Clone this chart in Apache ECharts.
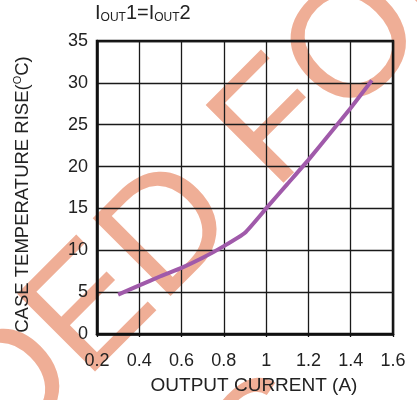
<!DOCTYPE html>
<html>
<head>
<meta charset="utf-8">
<script src="https://cdn.jsdelivr.net/npm/echarts@6/dist/echarts.min.js"></script>
<style>
  html, body { margin: 0; padding: 0; background: #fff; }
  #chart { width: 417px; height: 400px; }
</style>
</head>
<body>
<div id="chart"></div>
<script>
// Output current (A) and the resulting case temperature rise (°C)
const current = [0.3, 0.4, 0.5, 0.6, 0.7, 0.8, 0.9, 1.0, 1.1, 1.2, 1.3, 1.4, 1.5];
const tempRise = [4.7, 5.8, 6.9, 7.9, 9.1, 10.5, 12.1, 15.0, 17.9, 20.8, 23.9, 27.0, 30.3];

// Axis tick values
const xTicks = [0.2, 0.4, 0.6, 0.8, 1, 1.2, 1.4, 1.6];
const yTicks = [0, 5, 10, 15, 20, 25, 30, 35];

// Diagonal stamp text
const stampLines = ['NOT RECOMMENDED FOR', 'NEW DESIGNS'];

const FONT = 'Liberation Sans, Arial, sans-serif';
const chart = echarts.init(document.getElementById('chart'), null, { renderer: 'canvas' });

const stampPos = [[-244, 648], [-90, 808]];
const stamp = stampLines.map((t, i) => ({
  type: 'text',
  x: stampPos[i][0],
  y: stampPos[i][1],
  rotation: Math.PI / 4,
  z: -10,
  silent: true,
  style: {
    text: t,
    x: 0, y: 0,
    fill: '#EFAE96',
    font: '160px ' + FONT,
    textAlign: 'center',
    textVerticalAlign: 'middle'
  }
}));

chart.setOption({
  animation: false,
  backgroundColor: '#fff',
  title: {
    left: 95,
    top: 2,
    padding: 0,
    text: '{m|I}{s|OUT}{m|1=I}{s|OUT}{m|2}',
    textStyle: {
      fontWeight: 'normal',
      rich: {
        m: { fontFamily: FONT, fontSize: 20, fontWeight: 'normal', color: '#222', lineHeight: 22 },
        s: { fontFamily: FONT, fontSize: 12, fontWeight: 'normal', color: '#222', lineHeight: 12, verticalAlign: 'bottom' }
      }
    }
  },
  graphic: { elements: stamp },
  grid: {
    left: 97, right: 24, top: 41, bottom: 65,
    show: true,
    borderColor: '#111',
    borderWidth: 2.5,
    backgroundColor: 'transparent'
  },
  xAxis: {
    type: 'value',
    min: xTicks[0],
    max: xTicks[xTicks.length - 1],
    interval: 0.2,
    name: 'OUTPUT CURRENT (A)',
    nameLocation: 'middle',
    nameGap: 42,
    nameTextStyle: { fontFamily: FONT, fontSize: 19, color: '#222', padding: [0, 0, 0, 18] },
    axisLine: { show: true, lineStyle: { color: '#111', width: 2.5 } },
    axisTick: { show: true, length: 3, lineStyle: { color: '#111', width: 1.3 } },
    axisLabel: {
      margin: 18,
      fontFamily: FONT, fontSize: 18, color: '#222',
      formatter: v => String(+v.toFixed(1))
    },
    splitLine: { show: true, lineStyle: { color: '#1a1a1a', width: 1.3 } }
  },
  yAxis: {
    type: 'value',
    min: yTicks[0],
    max: yTicks[yTicks.length - 1],
    interval: 5,
    name: 'CASE TEMPERATURE RISE({sup|O}C)',
    nameLocation: 'middle',
    nameGap: 63,
    nameRotate: 90,
    nameTextStyle: {
      fontFamily: FONT, fontSize: 18.5, color: '#222',
      padding: [0, 14, 0, 0],
      rich: {
        sup: { fontFamily: FONT, fontSize: 11, color: '#222', verticalAlign: 'top', lineHeight: 22 }
      }
    },
    axisLine: { show: true, lineStyle: { color: '#111', width: 2.5 } },
    axisTick: { show: false },
    axisLabel: { margin: 9, fontFamily: FONT, fontSize: 18, color: '#222' },
    splitLine: { show: true, lineStyle: { color: '#1a1a1a', width: 1.3 } }
  },
  series: [{
    type: 'line',
    data: current.map((x, i) => [x, tempRise[i]]),
    showSymbol: false,
    smooth: 0.15,
    z: 5,
    lineStyle: { color: '#A05AAA', width: 4 }
  }]
});
</script>
</body>
</html>
